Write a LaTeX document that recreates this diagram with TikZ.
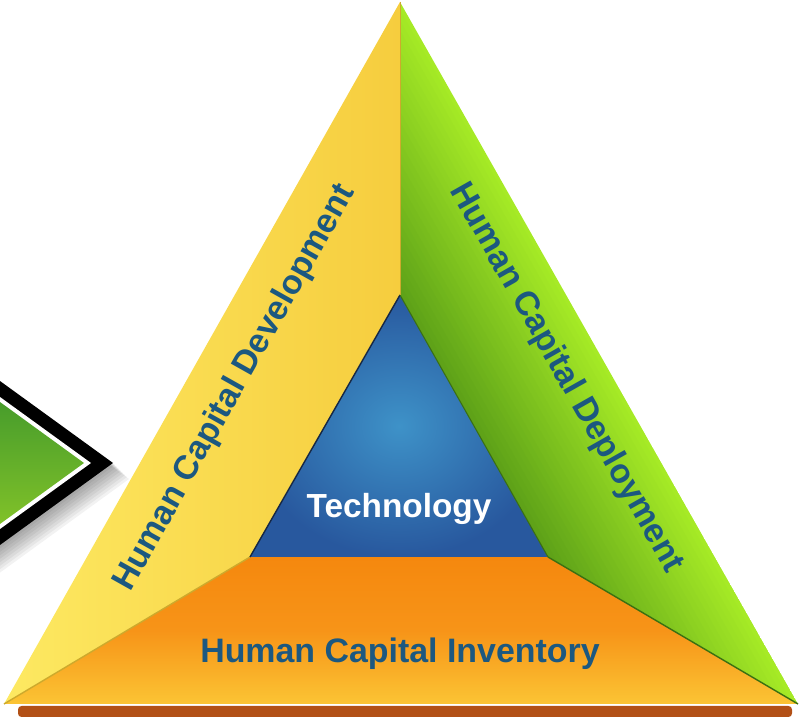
\documentclass[tikz,border=0pt]{standalone}
\usepackage{fontspec}
\setmainfont{Liberation Sans}
\usetikzlibrary{positioning}
\definecolor{yelL}{RGB}{253,233,98}
\definecolor{yelR}{RGB}{246,205,62}
\definecolor{yelD}{RGB}{205,170,45}
\definecolor{grnD}{RGB}{92,160,24}
\definecolor{grnL}{RGB}{166,234,38}
\definecolor{grnE}{RGB}{58,112,18}
\definecolor{orgT}{RGB}{245,136,14}
\definecolor{orgM}{RGB}{247,148,24}
\definecolor{orgB}{RGB}{251,196,52}
\definecolor{bluC}{RGB}{62,146,200}
\definecolor{bluO}{RGB}{40,88,158}
\definecolor{bluE}{RGB}{22,40,70}
\definecolor{barBrown}{RGB}{178,80,22}
\definecolor{labelBlue}{RGB}{28,88,128}
\definecolor{arrTop}{RGB}{58,148,44}
\definecolor{arrBot}{RGB}{142,202,40}

\begin{document}
\begin{tikzpicture}[x=0.02cm, y=0.02cm]
\tikzstyle{every node}+=[inner sep=0pt]
\tikzstyle{sidetext}=[font=\bfseries\fontsize{19.3}{22}\selectfont, text=labelBlue]
\tikzstyle{coretext}=[font=\bfseries\fontsize{19}{22}\selectfont, text=white]
\useasboundingbox (0,0) rectangle (799,-719);
% corners of the pyramid
\coordinate (apex) at (400,-2);
\coordinate (bl) at (4,-704);
\coordinate (br) at (798,-704);
\coordinate (iapex) at (400,-295);
\coordinate (ibl) at (250,-557);
\coordinate (ibr) at (548,-557);
% arrow on the left
\foreach \s in {2,4,...,16}
  \fill [black, opacity=0.05] ({-40+\s},{-352-\s}) -- ({113+\s},{-463-\s}) -- ({-40+\s},{-574-\s}) -- cycle;
\fill [black] (-40,-352) -- (113,-463) -- (-40,-574) -- cycle;
\fill [white] (-40,-368) -- (91,-463) -- (-40,-558) -- cycle;
\shade [top color=arrTop, bottom color=arrBot] (-40,-373) -- (84,-463) -- (-40,-553) -- cycle;
% base bar
\fill [barBrown, rounded corners=2pt] (18,-706) rectangle (792,-717);
% faces
\shade [left color=yelL, right color=yelR] (bl) -- (apex) -- (iapex) -- (ibl) -- cycle;
\begin{scope}
\clip (apex) -- (br) -- (ibr) -- (iapex) -- cycle;
\begin{scope}[shift={(apex)}, rotate=-60.5]
\foreach \i [evaluate=\i as \p using \i*100/29] in {0,...,29}
  \fill [grnD!\p!grnL] (-20,{-5*\i+1}) rectangle (850,{-5*\i-5});
\end{scope}
\end{scope}
\shade [top color=orgT, bottom color=orgB, middle color=orgM] (bl) -- (ibl) -- (ibr) -- (br) -- cycle;
\shade [inner color=bluC, outer color=bluO] (iapex) -- (ibl) -- (ibr) -- cycle;
% seams
\draw [yelD, line width=0.8pt] (bl) -- (ibl);
\draw [grnE, line width=0.8pt] (ibr) -- (br);
\draw [bluE, line width=0.8pt] (ibl) -- (iapex);
\draw [grnE, line width=0.6pt] (iapex) -- (ibr);
\draw [yelD, line width=0.4pt] (apex) -- (iapex);
% labels
\node [sidetext, rotate=60.7] (dev) at (235,-388) {Human Capital Development};
\node [sidetext, rotate=-60.5] (dep) at (566,-378) {Human Capital Deployment};
\node [coretext] (tech) at (399,-509) {Technology};
\node [sidetext] (inv) at (400,-654) {Human Capital Inventory};
\end{tikzpicture}
\end{document}
